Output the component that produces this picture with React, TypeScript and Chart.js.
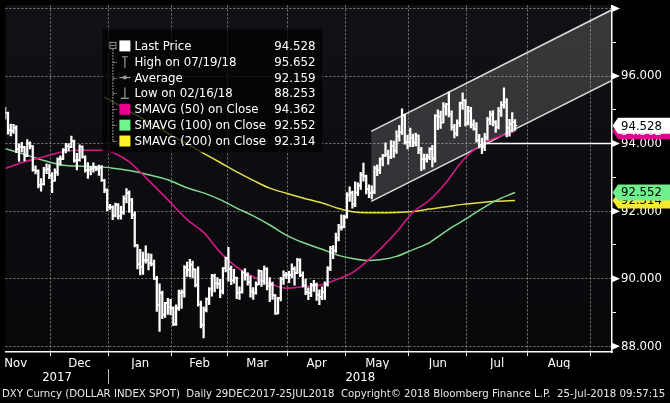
import React, { useEffect, useRef } from "react";
import { Chart, registerables } from "chart.js";

Chart.register(...registerables);

// ---- Daily OHLC, weekdays from Wed 08-Nov-2017 (index 0) to Wed 25-Jul-2018 (index 185)
const opens = [
  94.85, 94.91, 94.40, 94.37, 94.47, 93.83, 93.91, 93.90, 93.64, 94.00,
  93.92, 93.22, 93.19, 92.77, 92.80, 93.23, 93.24, 93.05, 92.90, 93.15,
  93.54, 93.54, 93.81, 93.92, 93.90, 94.07, 93.50, 93.51, 93.91, 93.61,
  93.21, 93.22, 93.26, 93.29, 93.26, 93.28, 92.91, 92.63, 92.12, 92.12,
  91.87, 92.19, 91.86, 91.96, 92.37, 92.53, 92.33, 91.89, 90.99, 90.43,
  90.35, 90.54, 90.55, 90.46, 90.44, 90.00, 89.22, 89.57, 88.94, 89.29,
  89.15, 89.13, 88.65, 89.14, 89.57, 89.60, 90.33, 90.26, 90.42, 90.27,
  89.81, 89.24, 88.63, 89.09, 89.39, 89.69, 90.08, 89.86, 89.85, 89.62,
  90.31, 90.61, 90.28, 89.95, 90.03, 89.58, 89.61, 90.18, 90.11, 89.90,
  89.62, 89.58, 89.83, 90.23, 89.92, 90.29, 89.78, 89.83, 89.51, 88.97,
  89.42, 89.98, 90.10, 90.12, 90.11, 90.29, 90.17, 90.56, 90.11, 89.80,
  89.60, 89.57, 89.81, 89.82, 89.52, 89.45, 89.61, 89.83, 90.30, 90.89,
  90.83, 91.20, 91.52, 91.53, 91.83, 92.47, 92.53, 92.20, 92.55, 92.76,
  93.08, 93.03, 92.65, 92.53, 92.56, 93.27, 93.21, 93.55, 93.64, 93.68,
  93.59, 93.93, 93.79, 94.22, 94.33, 94.83, 94.04, 94.04, 94.17, 94.03,
  94.22, 93.82, 93.54, 93.55, 93.61, 93.84, 93.56, 94.82, 94.80, 94.62,
  95.10, 95.16, 94.87, 94.48, 94.30, 94.62, 95.20, 95.28, 94.60, 94.97,
  94.56, 94.44, 94.09, 93.97, 93.90, 94.18, 94.71, 94.86, 94.63, 94.50,
  94.97, 95.14, 95.22, 94.46, 94.58, 94.63,
];
const highs = [
  95.07, 94.93, 94.58, 94.57, 94.53, 93.99, 94.04, 93.92, 94.12, 94.05,
  93.94, 93.34, 93.22, 92.96, 93.30, 93.40, 93.38, 93.14, 93.25, 93.58,
  93.64, 93.85, 94.01, 94.00, 94.22, 94.10, 93.71, 93.96, 93.93, 93.64,
  93.44, 93.32, 93.43, 93.33, 93.36, 93.35, 92.94, 92.66, 92.20, 92.16,
  92.24, 92.22, 92.14, 92.45, 92.67, 92.60, 92.38, 91.98, 91.01, 90.87,
  90.79, 90.97, 90.74, 90.73, 90.55, 90.07, 89.85, 89.63, 89.30, 89.42,
  89.39, 89.17, 89.23, 89.66, 89.67, 90.39, 90.49, 90.57, 90.52, 90.29,
  90.35, 89.34, 89.17, 89.43, 89.74, 90.13, 90.14, 90.03, 89.98, 90.33,
  90.64, 90.93, 90.37, 90.28, 90.05, 89.76, 90.23, 90.30, 90.17, 90.08,
  89.74, 89.91, 90.26, 90.24, 90.37, 90.32, 90.03, 89.90, 89.53, 89.45,
  90.04, 90.23, 90.19, 90.22, 90.44, 90.35, 90.60, 90.59, 90.20, 89.99,
  89.73, 89.86, 89.95, 89.87, 89.67, 89.76, 89.91, 90.36, 90.96, 90.98,
  91.35, 91.61, 91.89, 91.88, 92.55, 92.72, 92.59, 92.87, 92.84, 93.15,
  93.42, 93.07, 92.78, 92.75, 93.33, 93.37, 93.58, 93.68, 94.02, 93.81,
  94.09, 94.07, 94.38, 94.54, 95.03, 94.87, 94.25, 94.46, 94.28, 94.31,
  94.26, 93.89, 93.69, 93.69, 93.88, 93.95, 94.86, 95.00, 94.96, 95.21,
  95.19, 95.53, 94.97, 94.57, 94.70, 95.23, 95.50, 95.30, 95.10, 95.07,
  94.70, 94.62, 94.27, 94.16, 94.30, 94.78, 94.96, 94.98, 94.68, 95.07,
  95.24, 95.65, 95.33, 94.72, 94.92, 94.71,
];
const lows = [
  94.72, 94.28, 94.23, 94.30, 93.73, 93.47, 93.75, 93.49, 93.61, 93.84,
  93.18, 93.10, 92.69, 92.59, 92.77, 93.11, 92.96, 92.55, 92.89, 93.06,
  93.36, 93.52, 93.72, 93.78, 93.88, 93.45, 93.22, 93.48, 93.57, 93.15,
  92.97, 93.07, 93.15, 93.20, 93.06, 92.88, 92.55, 92.01, 92.05, 91.75,
  91.83, 91.76, 91.76, 91.90, 92.24, 91.96, 91.78, 90.94, 90.29, 90.11,
  90.13, 90.46, 90.26, 90.38, 89.98, 89.03, 88.44, 88.82, 88.85, 88.94,
  88.93, 88.61, 88.62, 89.06, 89.12, 89.45, 90.07, 90.05, 90.02, 89.76,
  89.19, 88.54, 88.25, 89.02, 89.23, 89.48, 89.61, 89.71, 89.44, 89.55,
  90.20, 89.93, 89.82, 89.87, 89.41, 89.39, 89.57, 89.96, 89.81, 89.45,
  89.39, 89.54, 89.82, 89.77, 89.83, 89.67, 89.32, 89.39, 88.94, 88.96,
  89.34, 89.83, 90.01, 89.88, 90.02, 89.81, 90.15, 90.06, 89.76, 89.53,
  89.38, 89.47, 89.62, 89.36, 89.23, 89.38, 89.39, 89.78, 90.24, 90.59,
  90.78, 91.12, 91.44, 91.50, 91.79, 92.29, 92.09, 92.13, 92.46, 92.64,
  92.89, 92.51, 92.40, 92.36, 92.52, 93.05, 93.11, 93.34, 93.62, 93.39,
  93.55, 93.59, 93.71, 94.07, 94.27, 93.98, 93.84, 93.91, 93.91, 93.93,
  93.70, 93.20, 93.24, 93.45, 93.52, 93.31, 93.45, 94.41, 94.45, 94.61,
  94.84, 94.79, 94.40, 94.17, 94.23, 94.50, 95.01, 94.52, 94.55, 94.46,
  94.40, 94.04, 93.87, 93.70, 93.79, 94.11, 94.56, 94.52, 94.33, 94.43,
  94.80, 95.05, 94.20, 94.22, 94.35, 94.39,
];
const closes = [
  94.91, 94.40, 94.39, 94.47, 93.83, 93.91, 93.90, 93.64, 94.00, 93.92,
  93.22, 93.19, 92.77, 92.80, 93.23, 93.24, 93.05, 92.90, 93.15, 93.54,
  93.54, 93.81, 93.92, 93.90, 94.07, 93.50, 93.51, 93.91, 93.61, 93.21,
  93.22, 93.26, 93.29, 93.26, 93.28, 92.91, 92.63, 92.12, 92.12, 91.87,
  92.19, 91.86, 91.96, 92.37, 92.53, 92.33, 91.89, 90.99, 90.43, 90.35,
  90.54, 90.55, 90.46, 90.44, 90.00, 89.22, 89.57, 88.94, 89.29, 89.15,
  89.13, 88.65, 89.14, 89.57, 89.60, 90.33, 90.26, 90.42, 90.27, 89.81,
  89.24, 88.63, 89.09, 89.39, 89.69, 90.08, 89.86, 89.85, 89.62, 90.31,
  90.61, 90.28, 89.95, 90.03, 89.58, 89.61, 90.18, 90.11, 89.90, 89.62,
  89.58, 89.83, 90.23, 89.92, 90.29, 89.78, 89.83, 89.51, 88.97, 89.42,
  89.98, 90.10, 90.12, 90.11, 90.29, 90.17, 90.56, 90.11, 89.80, 89.60,
  89.57, 89.81, 89.82, 89.52, 89.45, 89.61, 89.83, 90.30, 90.89, 90.83,
  91.20, 91.52, 91.53, 91.83, 92.47, 92.53, 92.20, 92.55, 92.76, 93.08,
  93.03, 92.65, 92.53, 92.56, 93.27, 93.21, 93.55, 93.64, 93.68, 93.59,
  93.93, 93.79, 94.22, 94.33, 94.83, 94.04, 94.04, 94.17, 94.03, 94.22,
  93.82, 93.54, 93.55, 93.61, 93.84, 93.56, 94.82, 94.80, 94.62, 95.10,
  95.16, 94.87, 94.48, 94.30, 94.62, 95.20, 95.28, 94.60, 94.97, 94.56,
  94.44, 94.09, 93.97, 93.90, 94.18, 94.71, 94.86, 94.63, 94.50, 94.97,
  95.14, 95.22, 94.46, 94.58, 94.63, 94.53,
];

// ---- Simple moving averages at these bar indices
const maIdx = [0, 7, 14, 21, 28, 35, 40, 45, 52, 59, 66, 72, 78, 84, 90, 96, 102, 108, 115, 121, 126, 131, 136, 142, 148, 154, 160, 166, 172, 178, 185];
const sma50 = [93.26, 93.46, 93.61, 93.76, 93.80, 93.80, 93.70, 93.46, 92.91, 92.34, 91.75, 91.37, 90.78, 90.34, 90.06, 89.86, 89.72, 89.76, 89.82, 90.00, 90.18, 90.50, 90.87, 91.38, 91.97, 92.33, 92.85, 93.50, 93.93, 94.17, 94.362];
const sma100 = [93.85, 93.68, 93.50, 93.36, 93.33, 93.31, 93.26, 93.20, 93.08, 92.93, 92.69, 92.54, 92.34, 92.09, 91.86, 91.59, 91.29, 91.07, 90.87, 90.69, 90.60, 90.54, 90.56, 90.66, 90.86, 91.07, 91.41, 91.71, 92.02, 92.31, 92.552];
const sma200Idx = [36, 40, 45, 52, 59, 66, 72, 78, 84, 90, 96, 102, 108, 115, 121, 126, 131, 136, 142, 148, 154, 160, 166, 172, 178, 185];
const sma200 = [95.38, 95.19, 94.96, 94.64, 94.31, 93.99, 93.71, 93.44, 93.16, 92.91, 92.68, 92.53, 92.39, 92.24, 92.08, 91.98, 91.95, 91.95, 91.96, 91.99, 92.06, 92.13, 92.20, 92.25, 92.29, 92.314];

// ---- Trend channel and support level (bar index, value)
const channelX = [132.8, 220.2];
const channelUpper = [94.36, 97.96];
const channelLower = [92.29, 95.87];
const supportX = [172.7, 220.2];
const supportLevel = [94.0, 94.0];

// ---- Axes
const xRange = [0.06, 220.2];
const yRange = [87.83, 98.09];
const yTicks = [88, 89, 90, 91, 92, 93, 94, 95, 96, 97, 98];
const monthNames = ["Nov", "Dec", "Jan", "Feb", "Mar", "Apr", "May", "Jun", "Jul", "Aug"];
const monthCenters = [3.8, 27, 49, 70.5, 91.5, 113, 135, 157, 178.5, 201];
const monthBoundaries = [16.5, 37.5, 60.5, 80.5, 102.5, 123.5, 146.5, 167.5, 189.5, 212.5];
const yearNames = ["2017", "2018"];
const yearCenters = [18.8, 128.85];
const yearBreak = 37.5;

// ---- Legend & footer
const legendLabels = ["Last Price", "High on 07/19/18", "Average", "Low on 02/16/18", "SMAVG (50) on Close", "SMAVG (100) on Close", "SMAVG (200) on Close"];
const legendValues = ["94.528", "95.652", "92.159", "88.253", "94.362", "92.552", "92.314"];
const footerText = "DXY Curncy (DOLLAR INDEX SPOT)  Daily 29DEC2017-25JUL2018  Copyright\u00A9 2018 Bloomberg Finance L.P.  25-Jul-2018 09:57:15";

const C_SMA50 = "#d01a84";
const C_SMA100 = "#84d890";
const C_SMA200 = "#e4de4a";
const SQ_50 = "#e8008c";
const SQ_100 = "#6ff58c";
const SQ_200 = "#fff02a";
const GRID = "rgba(150,150,150,0.8)";

function pickFont(): { family: string; scale: number } {
  const cands: [string, number][] = [
    ["Liberation Sans Narrow", 15 / 13],
    ["DejaVu Sans Condensed", 1],
    ["Arial Narrow", 15 / 13],
  ];
  const c = document.createElement("canvas").getContext("2d");
  if (c) {
    const s = "SMAVG (100) on Close 0123456789";
    for (const [name, sc] of cands) {
      let found = false;
      for (const base of ["monospace", "serif"]) {
        c.font = `20px ${base}`;
        const w0 = c.measureText(s).width;
        c.font = `20px "${name}", ${base}`;
        const w1 = c.measureText(s).width;
        if (Math.abs(w0 - w1) > 0.5) found = true;
      }
      if (found) return { family: `"${name}", sans-serif`, scale: sc };
    }
  }
  return { family: "Roboto, sans-serif", scale: 1 };
}

export default function App() {
  const ref = useRef<HTMLCanvasElement>(null);

  useEffect(() => {
    const canvas = ref.current;
    if (!canvas) return;
    const { family, scale } = pickFont();
    const fsz = (n: number) => Math.round(n * scale * 10) / 10;
    const tickFont = { family, size: fsz(13) };

    const bgPlugin = {
      id: "bbgBackground",
      beforeDraw(chart: any) {
        const { ctx, chartArea: a, width, height } = chart;
        ctx.save();
        ctx.fillStyle = "#000";
        ctx.fillRect(0, 0, width, height);
        const g = ctx.createLinearGradient(0, a.top, 0, a.bottom);
        g.addColorStop(0, "#121216");
        g.addColorStop(1, "#08080b");
        ctx.fillStyle = g;
        ctx.fillRect(a.left, a.top, a.right - a.left, a.bottom - a.top);
        ctx.restore();
      },
    };

    const overlayPlugin = {
      id: "bbgOverlay",
      afterDatasetsDraw(chart: any) {
        const { ctx, chartArea: a, scales } = chart;
        const ys = scales.y;
        ctx.save();
        // axis arrows at major ticks
        ctx.fillStyle = "#fff";
        yTicks.filter((v) => v % 2 === 0).forEach((v) => {
          const y = ys.getPixelForValue(v);
          ctx.beginPath();
          ctx.moveTo(a.right, y - 3.5);
          ctx.lineTo(a.right + 8, y);
          ctx.lineTo(a.right, y + 3.5);
          ctx.closePath();
          ctx.fill();
        });

        // legend box
        const bx = a.left + 97, by = a.top + 24, bw = 220, bh = 123;
        ctx.fillStyle = "rgba(2,2,3,0.75)";
        ctx.fillRect(bx, by, bw, bh);
        const row0 = by + 16.5;
        const step = 15.85;
        const grey = "#9a9a9a";
        // tree
        ctx.strokeStyle = grey;
        ctx.lineWidth = 1;
        ctx.strokeRect(bx + 7.5, row0 - 3.5, 6, 6);
        ctx.beginPath();
        ctx.moveTo(bx + 8.5, row0 - 0.5);
        ctx.lineTo(bx + 12.5, row0 - 0.5);
        ctx.stroke();
        ctx.setLineDash([2, 1]);
        ctx.beginPath();
        ctx.moveTo(bx + 10.5, row0 + 3);
        ctx.lineTo(bx + 10.5, row0 + 6 * step);
        for (let k = 1; k < legendLabels.length; k++) {
          const y = Math.round(row0 + k * step) + 0.5;
          ctx.moveTo(bx + 10.5, y);
          ctx.lineTo(bx + 14.5, y);
        }
        ctx.stroke();
        ctx.setLineDash([]);
        // icons
        const ix = bx + 17, iw = 11;
        const icx = ix + iw / 2;
        legendLabels.forEach((_, k) => {
          const y = row0 + k * step;
          if (k === 0 || k >= 4) {
            ctx.fillStyle = k === 0 ? "#ffffff" : k === 4 ? SQ_50 : k === 5 ? SQ_100 : SQ_200;
            ctx.fillRect(ix, y - 5.5, iw, iw);
          } else {
            ctx.strokeStyle = grey;
            ctx.lineWidth = 1.2;
            ctx.beginPath();
            if (k === 1) {
              ctx.moveTo(icx - 3, y - 5); ctx.lineTo(icx + 3, y - 5);
              ctx.moveTo(icx, y - 5); ctx.lineTo(icx, y + 6);
            } else if (k === 2) {
              ctx.moveTo(ix, y); ctx.lineTo(ix + iw, y);
            } else {
              ctx.moveTo(icx, y - 6); ctx.lineTo(icx, y + 5);
              ctx.moveTo(icx - 4, y + 5); ctx.lineTo(icx + 4, y + 5);
            }
            ctx.stroke();
            if (k === 2) {
              ctx.fillStyle = grey;
              ctx.beginPath();
              ctx.arc(icx, y, 2, 0, Math.PI * 2);
              ctx.fill();
            }
          }
        });
        // texts
        ctx.font = `${fsz(13.1)}px ${family}`;
        ctx.fillStyle = "#ffffff";
        ctx.textBaseline = "middle";
        legendLabels.forEach((t, k) => {
          const y = row0 + k * step + 0.5;
          ctx.textAlign = "left";
          ctx.fillText(t, bx + 32, y);
          ctx.textAlign = "right";
          ctx.fillText(legendValues[k], bx + bw - 7, y);
        });
        ctx.restore();
      },
      afterDraw(chart: any) {
        const { ctx, chartArea: a, scales, width, height } = chart;
        const ys = scales.y;
        ctx.save();
        // price tags on the right axis
        const tags = [
          { v: legendValues[4], bg: SQ_50, fg: "#ffffff" },
          { v: legendValues[0], bg: "#ffffff", fg: "#000000" },
          { v: legendValues[6], bg: "#f5ec30", fg: "#000000" },
          { v: legendValues[5], bg: "#6ff08c", fg: "#000000" },
        ];
        ctx.font = `${fsz(13)}px ${family}`;
        ctx.textBaseline = "middle";
        ctx.textAlign = "left";
        tags.forEach((t) => {
          const y = ys.getPixelForValue(parseFloat(t.v));
          ctx.fillStyle = t.bg;
          ctx.beginPath();
          ctx.moveTo(a.right + 0.5, y);
          ctx.lineTo(a.right + 6, y - 8);
          ctx.lineTo(width, y - 8);
          ctx.lineTo(width, y + 8);
          ctx.lineTo(a.right + 6, y + 8);
          ctx.closePath();
          ctx.fill();
          ctx.fillStyle = t.fg;
          ctx.fillText(t.v, a.right + 9, y + 0.5);
        });
        // footer
        let size = 12;
        ctx.font = `${size}px ${family}`;
        const w = ctx.measureText(footerText).width;
        size = Math.min(13, (size * 664) / w);
        ctx.font = `${size}px ${family}`;
        ctx.fillStyle = "#e8e8e8";
        ctx.textAlign = "left";
        ctx.textBaseline = "middle";
        ctx.fillText(footerText, 2, height - 9, 666);
        ctx.restore();
      },
    };

    const tickOff = 0.4;
    const datasets: any[] = [
      {
        type: "bar",
        label: "High-Low",
        data: lows.map((l, i) => ({ x: i, y: [l, highs[i]] })),
        backgroundColor: "#ffffff",
        borderWidth: 0,
        barThickness: 1.6,
        grouped: false,
        order: 1,
      },
      {
        type: "scatter",
        label: "Open",
        data: opens.map((o, i) => ({ x: i - tickOff, y: o })),
        pointStyle: "line",
        pointRadius: 1.2,
        pointBorderWidth: 1.4,
        pointBorderColor: "#ffffff",
        pointBackgroundColor: "#ffffff",
        order: 1,
      },
      {
        type: "scatter",
        label: "Close",
        data: closes.map((c, i) => ({ x: i + tickOff, y: c })),
        pointStyle: "line",
        pointRadius: 1.2,
        pointBorderWidth: 1.4,
        pointBorderColor: "#ffffff",
        pointBackgroundColor: "#ffffff",
        order: 1,
      },
      {
        type: "line",
        label: "Support",
        data: supportX.map((x, k) => ({ x, y: supportLevel[k] })),
        borderColor: "#ffffff",
        borderWidth: 1.5,
        pointRadius: 0,
        order: 2,
      },
      {
        type: "line",
        label: "SMAVG (50)",
        data: maIdx.map((x, k) => ({ x, y: sma50[k] })),
        borderColor: C_SMA50,
        borderWidth: 1.6,
        pointRadius: 0,
        cubicInterpolationMode: "monotone",
        order: 3,
      },
      {
        type: "line",
        label: "SMAVG (100)",
        data: maIdx.map((x, k) => ({ x, y: sma100[k] })),
        borderColor: C_SMA100,
        borderWidth: 1.5,
        pointRadius: 0,
        cubicInterpolationMode: "monotone",
        order: 4,
      },
      {
        type: "line",
        label: "SMAVG (200)",
        data: sma200Idx.map((x, k) => ({ x, y: sma200[k] })),
        borderColor: C_SMA200,
        borderWidth: 1.5,
        pointRadius: 0,
        cubicInterpolationMode: "monotone",
        order: 5,
      },
      {
        type: "line",
        label: "Channel upper",
        data: channelX.map((x, k) => ({ x, y: channelUpper[k] })),
        borderColor: "#dcdcdc",
        borderWidth: 1.5,
        pointRadius: 0,
        fill: false,
        order: 6,
      },
      {
        type: "line",
        label: "Channel lower",
        data: channelX.map((x, k) => ({ x, y: channelLower[k] })),
        borderColor: "#dcdcdc",
        borderWidth: 1.5,
        pointRadius: 0,
        fill: "-1",
        backgroundColor: "rgba(255,255,255,0.16)",
        order: 7,
      },
    ];

    const isBoundary = (v: number) => monthBoundaries.includes(v);

    const chart = new Chart(canvas, {
      type: "line",
      data: { datasets },
      plugins: [bgPlugin, overlayPlugin],
      options: {
        responsive: false,
        animation: false,
        devicePixelRatio: 1,
        events: [],
        layout: { padding: { left: 0, right: 0, top: 0, bottom: 18 } },
        plugins: {
          legend: { display: false },
          tooltip: { enabled: false },
          title: { display: false },
        },
        scales: {
          x: {
            type: "linear",
            position: "bottom",
            weight: 0,
            min: xRange[0],
            max: xRange[1],
            offset: false,
            afterBuildTicks: (s: any) => {
              s.ticks = [...monthBoundaries, ...monthCenters].sort((p, q) => p - q).map((value) => ({ value }));
            },
            afterFit: (s: any) => {
              s.height = 17;
              s.paddingLeft = 0;
              s.paddingRight = 0;
            },
            grid: {
              offset: false,
              color: (c: any) => (c.tick && isBoundary(c.tick.value) ? GRID : "rgba(0,0,0,0)"),
              tickColor: (c: any) => (c.tick && isBoundary(c.tick.value) ? "#ffffff" : "rgba(0,0,0,0)"),
              tickLength: 4,
              lineWidth: 1,
            },
            border: { display: true, color: "#ffffff", width: 1.5, dash: [2, 2] },
            ticks: {
              autoSkip: false,
              maxRotation: 0,
              minRotation: 0,
              padding: 0,
              color: "#ffffff",
              font: tickFont,
              callback: (_v: any, i: number, ticks: any[]) => {
                const k = monthCenters.indexOf(ticks[i].value);
                return k >= 0 ? monthNames[k] : "";
              },
            },
          },
          x3: {
            type: "linear",
            position: "bottom",
            weight: 1,
            min: xRange[0],
            max: xRange[1],
            offset: false,
            afterBuildTicks: (s: any) => {
              s.ticks = [yearCenters[0], yearBreak, yearCenters[1]].map((value) => ({ value }));
            },
            afterFit: (s: any) => {
              s.height = 16;
              s.paddingLeft = 0;
              s.paddingRight = 0;
            },
            grid: {
              display: true,
              drawOnChartArea: false,
              offset: false,
              tickColor: (c: any) => (c.tick && c.tick.value === yearBreak ? "#bdbdbd" : "rgba(0,0,0,0)"),
              tickLength: 15,
            },
            border: { display: false },
            ticks: {
              autoSkip: false,
              maxRotation: 0,
              minRotation: 0,
              padding: -14,
              color: "#ffffff",
              font: tickFont,
              callback: (_v: any, i: number, ticks: any[]) => {
                const k = yearCenters.indexOf(ticks[i].value);
                return k >= 0 ? yearNames[k] : "";
              },
            },
          },
          y: {
            type: "linear",
            position: "right",
            min: yRange[0],
            max: yRange[1],
            afterBuildTicks: (s: any) => {
              s.ticks = yTicks.map((value) => ({ value }));
            },
            afterFit: (s: any) => {
              s.width = 58;
              s.paddingTop = 0;
              s.paddingBottom = 0;
            },
            grid: {
              color: (c: any) => (c.tick && c.tick.value % 2 === 0 ? GRID : "rgba(0,0,0,0)"),
              tickColor: (c: any) => (c.tick && c.tick.value % 2 !== 0 ? "#ffffff" : "rgba(0,0,0,0)"),
              tickLength: 4,
              lineWidth: 1,
            },
            border: { display: true, color: "#ffffff", width: 1.5, dash: [2, 2] },
            ticks: {
              autoSkip: false,
              padding: 5,
              color: "#ffffff",
              font: tickFont,
              callback: (v: any) => {
                const n = Number(v);
                return n % 2 === 0 && n < 97 ? n.toFixed(3) : "";
              },
            },
          },
        },
      } as any,
    } as any);

    return () => chart.destroy();
  }, []);

  return (
    <div style={{ position: "absolute", left: 0, top: 0, width: 670, height: 403, background: "#000" }}>
      <canvas ref={ref} width={670} height={403} style={{ display: "block", width: 670, height: 403 }} />
    </div>
  );
}
